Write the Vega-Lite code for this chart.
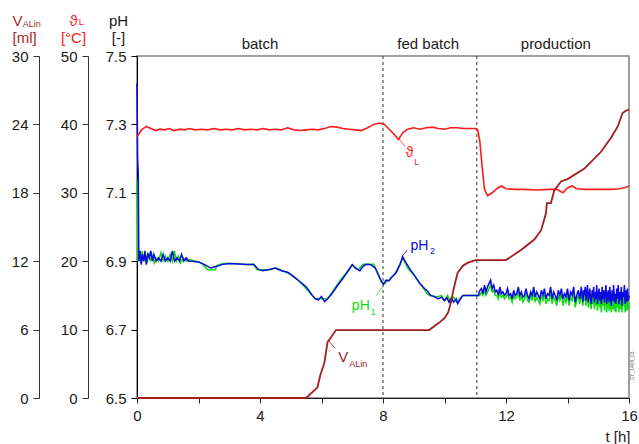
{
"$schema": "https://vega.github.io/schema/vega-lite/v6.json",
"width": 492, "height": 342,
"autosize": {"type": "none"},
"padding": {"left": 137, "top": 56, "right": 10, "bottom": 46},
"background": "white",
"config": {
  "font": "Liberation Sans",
  "view": {"stroke": "#808080", "strokeWidth": 1.5},
  "axis": {"grid": false, "labelFont": "Liberation Sans", "titleFont": "Liberation Sans", "labelFontSize": 15, "titleFontSize": 15, "titleFontWeight": "normal", "labelColor": "#1a1a1a", "titleColor": "#1a1a1a", "domainColor": "#222", "tickColor": "#222", "labelFlush": false, "labelOverlap": false, "labelPadding": 5, "domainWidth": 1, "tickWidth": 1},
  "text": {"font": "Liberation Sans"}
},
"datasets": {
  "ph2": [
{"t":0,"pH":7.42},{"t":0.02,"pH":7.2},{"t":0.04,"pH":7.16},{"t":0.06,"pH":6.9},{"t":0.1,"pH":6.93},{"t":0.14,"pH":6.89},{"t":0.18,"pH":6.92},{"t":0.22,"pH":6.9},{"t":0.26,"pH":6.93},{"t":0.3,"pH":6.89},{"t":0.35,"pH":6.92},{"t":0.4,"pH":6.91},{"t":0.45,"pH":6.93},{"t":0.5,"pH":6.9},{"t":0.55,"pH":6.92},{"t":0.62,"pH":6.9},{"t":0.7,"pH":6.91},{"t":0.78,"pH":6.9},{"t":0.85,"pH":6.92},{"t":0.92,"pH":6.9},{"t":1.0,"pH":6.91},{"t":1.08,"pH":6.9},{"t":1.15,"pH":6.93},{"t":1.22,"pH":6.9},{"t":1.3,"pH":6.91},{"t":1.38,"pH":6.9},{"t":1.45,"pH":6.92},{"t":1.52,"pH":6.9},{"t":1.6,"pH":6.91},{"t":1.68,"pH":6.9},{"t":1.8,"pH":6.9},{"t":2.0,"pH":6.898},{"t":2.2,"pH":6.89},{"t":2.4,"pH":6.88},{"t":2.6,"pH":6.885},{"t":2.75,"pH":6.89},{"t":3.0,"pH":6.893},{"t":3.3,"pH":6.892},{"t":3.6,"pH":6.89},{"t":3.8,"pH":6.89},{"t":3.95,"pH":6.876},{"t":4.1,"pH":6.872},{"t":4.3,"pH":6.876},{"t":4.5,"pH":6.88},{"t":4.7,"pH":6.872},{"t":4.9,"pH":6.868},{"t":5.1,"pH":6.855},{"t":5.3,"pH":6.84},{"t":5.5,"pH":6.825},{"t":5.7,"pH":6.8},{"t":5.8,"pH":6.79},{"t":5.9,"pH":6.787},{"t":6.0,"pH":6.797},{"t":6.1,"pH":6.782},{"t":6.2,"pH":6.79},{"t":6.35,"pH":6.806},{"t":6.5,"pH":6.826},{"t":6.7,"pH":6.85},{"t":6.85,"pH":6.87},{"t":7.0,"pH":6.89},{"t":7.1,"pH":6.88},{"t":7.25,"pH":6.872},{"t":7.35,"pH":6.885},{"t":7.45,"pH":6.891},{"t":7.6,"pH":6.89},{"t":7.75,"pH":6.88},{"t":7.85,"pH":6.86},{"t":7.95,"pH":6.84},{"t":8.02,"pH":6.832},{"t":8.1,"pH":6.845},{"t":8.2,"pH":6.843},{"t":8.3,"pH":6.855},{"t":8.42,"pH":6.865},{"t":8.55,"pH":6.89},{"t":8.64,"pH":6.913},{"t":8.75,"pH":6.895},{"t":8.9,"pH":6.874},{"t":9.05,"pH":6.855},{"t":9.2,"pH":6.835},{"t":9.35,"pH":6.82},{"t":9.45,"pH":6.812},{"t":9.55,"pH":6.8},{"t":9.7,"pH":6.795},{"t":9.8,"pH":6.79},{"t":9.9,"pH":6.795},{"t":10.0,"pH":6.785},{"t":10.08,"pH":6.793},{"t":10.15,"pH":6.78},{"t":10.22,"pH":6.792},{"t":10.3,"pH":6.78},{"t":10.38,"pH":6.79},{"t":10.43,"pH":6.776},{"t":10.52,"pH":6.79},{"t":10.6,"pH":6.8},{"t":10.7,"pH":6.8},{"t":10.9,"pH":6.8},{"t":11.05,"pH":6.8},
{"t":11.10,"pH":6.80},{"t":11.15,"pH":6.815},{"t":11.20,"pH":6.82},{"t":11.25,"pH":6.805},{"t":11.30,"pH":6.83},{"t":11.35,"pH":6.81},{"t":11.40,"pH":6.825},{"t":11.45,"pH":6.835},{"t":11.50,"pH":6.845},{"t":11.55,"pH":6.82},{"t":11.60,"pH":6.83},{"t":11.65,"pH":6.81},{"t":11.70,"pH":6.815},{"t":11.75,"pH":6.80},{"t":11.80,"pH":6.825},{"t":11.85,"pH":6.805},{"t":11.90,"pH":6.81},{"t":11.95,"pH":6.80},{"t":12.00,"pH":6.805},{"t":12.05,"pH":6.82},{"t":12.10,"pH":6.80},{"t":12.15,"pH":6.805},{"t":12.20,"pH":6.79},{"t":12.25,"pH":6.815},{"t":12.30,"pH":6.80},{"t":12.35,"pH":6.805},{"t":12.40,"pH":6.825},{"t":12.45,"pH":6.80},{"t":12.50,"pH":6.81},{"t":12.55,"pH":6.795},{"t":12.60,"pH":6.80},{"t":12.65,"pH":6.82},{"t":12.70,"pH":6.80},{"t":12.75,"pH":6.79},{"t":12.80,"pH":6.81},{"t":12.85,"pH":6.80},{"t":12.90,"pH":6.825},{"t":12.95,"pH":6.795},{"t":13.00,"pH":6.81},{"t":13.05,"pH":6.80},{"t":13.10,"pH":6.79},{"t":13.15,"pH":6.815},{"t":13.20,"pH":6.80},{"t":13.25,"pH":6.82},{"t":13.30,"pH":6.79},{"t":13.35,"pH":6.805},{"t":13.40,"pH":6.80},{"t":13.45,"pH":6.825},{"t":13.50,"pH":6.79},{"t":13.55,"pH":6.81},{"t":13.60,"pH":6.80},{"t":13.65,"pH":6.785},{"t":13.70,"pH":6.815},{"t":13.75,"pH":6.80},{"t":13.80,"pH":6.82},{"t":13.85,"pH":6.79},{"t":13.90,"pH":6.805},{"t":13.95,"pH":6.795},{"t":14.00,"pH":6.82},{"t":14.05,"pH":6.785},{"t":14.10,"pH":6.81},{"t":14.15,"pH":6.80},{"t":14.20,"pH":6.825},{"t":14.25,"pH":6.78},{"t":14.30,"pH":6.80},{"t":14.35,"pH":6.815},{"t":14.40,"pH":6.79},{"t":14.45,"pH":6.825},
{"t":14.500,"pH":6.78},{"t":14.525,"pH":6.815},{"t":14.550,"pH":6.80},{"t":14.575,"pH":6.825},{"t":14.600,"pH":6.785},{"t":14.625,"pH":6.81},{"t":14.650,"pH":6.83},{"t":14.675,"pH":6.78},{"t":14.700,"pH":6.80},{"t":14.725,"pH":6.82},{"t":14.750,"pH":6.79},{"t":14.775,"pH":6.775},{"t":14.800,"pH":6.815},{"t":14.825,"pH":6.795},{"t":14.850,"pH":6.825},{"t":14.875,"pH":6.78},{"t":14.900,"pH":6.81},{"t":14.925,"pH":6.79},{"t":14.950,"pH":6.83},{"t":14.975,"pH":6.775},{"t":15.000,"pH":6.80},{"t":15.025,"pH":6.82},{"t":15.050,"pH":6.785},{"t":15.075,"pH":6.81},{"t":15.100,"pH":6.775},{"t":15.125,"pH":6.825},{"t":15.150,"pH":6.79},{"t":15.175,"pH":6.815},{"t":15.200,"pH":6.78},{"t":15.225,"pH":6.805},{"t":15.250,"pH":6.83},{"t":15.275,"pH":6.775},{"t":15.300,"pH":6.80},{"t":15.325,"pH":6.815},{"t":15.350,"pH":6.78},{"t":15.375,"pH":6.825},{"t":15.400,"pH":6.795},{"t":15.425,"pH":6.77},{"t":15.450,"pH":6.815},{"t":15.475,"pH":6.785},{"t":15.500,"pH":6.83},{"t":15.525,"pH":6.78},{"t":15.550,"pH":6.805},{"t":15.575,"pH":6.775},{"t":15.600,"pH":6.82},{"t":15.625,"pH":6.79},{"t":15.650,"pH":6.83},{"t":15.675,"pH":6.775},{"t":15.700,"pH":6.81},{"t":15.725,"pH":6.785},{"t":15.750,"pH":6.825},{"t":15.775,"pH":6.77},{"t":15.800,"pH":6.81},{"t":15.825,"pH":6.795},{"t":15.850,"pH":6.83},{"t":15.875,"pH":6.775},{"t":15.900,"pH":6.815},{"t":15.925,"pH":6.78},{"t":15.950,"pH":6.82},{"t":15.975,"pH":6.785},{"t":16.000,"pH":6.80}
  ],
  "ph1": [
{"t":0,"pH":7.14},{"t":0.03,"pH":6.9},{"t":0.08,"pH":6.92},{"t":0.12,"pH":6.895},{"t":0.17,"pH":6.93},{"t":0.22,"pH":6.9},{"t":0.28,"pH":6.92},{"t":0.33,"pH":6.895},{"t":0.38,"pH":6.925},{"t":0.44,"pH":6.9},{"t":0.5,"pH":6.92},{"t":0.56,"pH":6.895},{"t":0.62,"pH":6.91},{"t":0.7,"pH":6.9},{"t":0.78,"pH":6.925},{"t":0.85,"pH":6.9},{"t":0.92,"pH":6.915},{"t":1.0,"pH":6.9},{"t":1.08,"pH":6.92},{"t":1.15,"pH":6.9},{"t":1.22,"pH":6.93},{"t":1.28,"pH":6.9},{"t":1.35,"pH":6.915},{"t":1.42,"pH":6.895},{"t":1.5,"pH":6.91},{"t":1.6,"pH":6.9},{"t":1.7,"pH":6.905},{"t":1.9,"pH":6.9},{"t":2.1,"pH":6.895},{"t":2.3,"pH":6.875},{"t":2.55,"pH":6.875},{"t":2.6,"pH":6.888},{"t":2.8,"pH":6.893},{"t":3.2,"pH":6.893},{"t":3.5,"pH":6.89},{"t":3.8,"pH":6.891},{"t":3.9,"pH":6.875},{"t":4.3,"pH":6.875},{"t":4.5,"pH":6.88},{"t":4.8,"pH":6.87},{"t":5.0,"pH":6.86},{"t":5.3,"pH":6.84},{"t":5.5,"pH":6.82},{"t":5.7,"pH":6.8},{"t":5.8,"pH":6.79},{"t":6.2,"pH":6.79},{"t":6.35,"pH":6.81},{"t":6.5,"pH":6.83},{"t":6.7,"pH":6.855},{"t":6.9,"pH":6.875},{"t":7.0,"pH":6.89},{"t":7.2,"pH":6.875},{"t":7.35,"pH":6.891},{"t":7.7,"pH":6.891},{"t":7.8,"pH":6.87},{"t":7.95,"pH":6.84},{"t":8.05,"pH":6.835},{"t":8.2,"pH":6.845},{"t":8.4,"pH":6.865},{"t":8.55,"pH":6.89},{"t":8.64,"pH":6.91},{"t":8.8,"pH":6.88},{"t":9.0,"pH":6.86},{"t":9.2,"pH":6.835},{"t":9.4,"pH":6.81},{"t":9.5,"pH":6.8},{"t":9.6,"pH":6.8},{"t":9.75,"pH":6.795},{"t":9.9,"pH":6.8},{"t":10.0,"pH":6.785},{"t":10.1,"pH":6.8},{"t":10.2,"pH":6.78},{"t":10.3,"pH":6.795},{"t":10.4,"pH":6.78},{"t":10.5,"pH":6.79},{"t":10.6,"pH":6.8},{"t":11.05,"pH":6.8},
{"t":11.10,"pH":6.80},{"t":11.15,"pH":6.80},{"t":11.20,"pH":6.81},{"t":11.25,"pH":6.80},{"t":11.30,"pH":6.815},{"t":11.35,"pH":6.80},{"t":11.40,"pH":6.81},{"t":11.45,"pH":6.82},{"t":11.50,"pH":6.83},{"t":11.55,"pH":6.81},{"t":11.60,"pH":6.815},{"t":11.65,"pH":6.80},{"t":11.70,"pH":6.80},{"t":11.75,"pH":6.79},{"t":11.80,"pH":6.81},{"t":11.85,"pH":6.795},{"t":11.90,"pH":6.80},{"t":11.95,"pH":6.79},{"t":12.00,"pH":6.795},{"t":12.05,"pH":6.805},{"t":12.10,"pH":6.79},{"t":12.15,"pH":6.795},{"t":12.20,"pH":6.78},{"t":12.25,"pH":6.80},{"t":12.30,"pH":6.79},{"t":12.35,"pH":6.795},{"t":12.40,"pH":6.81},{"t":12.45,"pH":6.785},{"t":12.50,"pH":6.80},{"t":12.55,"pH":6.78},{"t":12.60,"pH":6.79},{"t":12.65,"pH":6.805},{"t":12.70,"pH":6.785},{"t":12.75,"pH":6.78},{"t":12.80,"pH":6.80},{"t":12.85,"pH":6.785},{"t":12.90,"pH":6.81},{"t":12.95,"pH":6.78},{"t":13.00,"pH":6.795},{"t":13.05,"pH":6.785},{"t":13.10,"pH":6.775},{"t":13.15,"pH":6.80},{"t":13.20,"pH":6.785},{"t":13.25,"pH":6.805},{"t":13.30,"pH":6.775},{"t":13.35,"pH":6.79},{"t":13.40,"pH":6.785},{"t":13.45,"pH":6.81},{"t":13.50,"pH":6.775},{"t":13.55,"pH":6.795},{"t":13.60,"pH":6.785},{"t":13.65,"pH":6.77},{"t":13.70,"pH":6.80},{"t":13.75,"pH":6.785},{"t":13.80,"pH":6.805},{"t":13.85,"pH":6.77},{"t":13.90,"pH":6.79},{"t":13.95,"pH":6.78},{"t":14.00,"pH":6.805},{"t":14.05,"pH":6.77},{"t":14.10,"pH":6.795},{"t":14.15,"pH":6.785},{"t":14.20,"pH":6.81},{"t":14.25,"pH":6.765},{"t":14.30,"pH":6.785},{"t":14.35,"pH":6.80},{"t":14.40,"pH":6.775},{"t":14.45,"pH":6.81},
{"t":14.500,"pH":6.77},{"t":14.525,"pH":6.80},{"t":14.550,"pH":6.785},{"t":14.575,"pH":6.81},{"t":14.600,"pH":6.77},{"t":14.625,"pH":6.795},{"t":14.650,"pH":6.81},{"t":14.675,"pH":6.765},{"t":14.700,"pH":6.785},{"t":14.725,"pH":6.80},{"t":14.750,"pH":6.77},{"t":14.775,"pH":6.76},{"t":14.800,"pH":6.80},{"t":14.825,"pH":6.775},{"t":14.850,"pH":6.805},{"t":14.875,"pH":6.76},{"t":14.900,"pH":6.79},{"t":14.925,"pH":6.77},{"t":14.950,"pH":6.81},{"t":14.975,"pH":6.755},{"t":15.000,"pH":6.785},{"t":15.025,"pH":6.80},{"t":15.050,"pH":6.765},{"t":15.075,"pH":6.79},{"t":15.100,"pH":6.75},{"t":15.125,"pH":6.80},{"t":15.150,"pH":6.77},{"t":15.175,"pH":6.795},{"t":15.200,"pH":6.755},{"t":15.225,"pH":6.785},{"t":15.250,"pH":6.81},{"t":15.275,"pH":6.75},{"t":15.300,"pH":6.78},{"t":15.325,"pH":6.795},{"t":15.350,"pH":6.755},{"t":15.375,"pH":6.80},{"t":15.400,"pH":6.77},{"t":15.425,"pH":6.75},{"t":15.450,"pH":6.795},{"t":15.475,"pH":6.76},{"t":15.500,"pH":6.81},{"t":15.525,"pH":6.755},{"t":15.550,"pH":6.785},{"t":15.575,"pH":6.75},{"t":15.600,"pH":6.80},{"t":15.625,"pH":6.765},{"t":15.650,"pH":6.81},{"t":15.675,"pH":6.75},{"t":15.700,"pH":6.79},{"t":15.725,"pH":6.76},{"t":15.750,"pH":6.805},{"t":15.775,"pH":6.75},{"t":15.800,"pH":6.79},{"t":15.825,"pH":6.77},{"t":15.850,"pH":6.81},{"t":15.875,"pH":6.75},{"t":15.900,"pH":6.795},{"t":15.925,"pH":6.755},{"t":15.950,"pH":6.80},{"t":15.975,"pH":6.76},{"t":16.000,"pH":6.78}
  ],
  "temp": [
{"t":0,"T":38.2},{"t":0.15,"T":39.2},{"t":0.3,"T":39.7},{"t":0.45,"T":39.4},{"t":0.6,"T":39.1},{"t":0.75,"T":39.3},{"t":0.9,"T":39.2},{"t":1.05,"T":39.4},{"t":1.2,"T":39.1},{"t":1.4,"T":39.3},{"t":1.55,"T":39.2},{"t":1.7,"T":39.4},{"t":1.9,"T":39.2},{"t":2.1,"T":39.3},{"t":2.3,"T":39.2},{"t":2.5,"T":39.4},{"t":2.7,"T":39.2},{"t":2.9,"T":39.3},{"t":3.1,"T":39.2},{"t":3.3,"T":39.4},{"t":3.5,"T":39.2},{"t":3.7,"T":39.3},{"t":3.9,"T":39.2},{"t":4.1,"T":39.4},{"t":4.3,"T":39.2},{"t":4.5,"T":39.3},{"t":4.7,"T":39.2},{"t":4.9,"T":39.5},{"t":5.1,"T":39.2},{"t":5.3,"T":39.1},{"t":5.5,"T":39.2},{"t":5.7,"T":39.3},{"t":5.9,"T":39.2},{"t":6.1,"T":39.4},{"t":6.3,"T":39.7},{"t":6.5,"T":39.6},{"t":6.7,"T":39.4},{"t":6.9,"T":39.3},{"t":7.1,"T":39.2},{"t":7.3,"T":39.1},{"t":7.5,"T":39.5},{"t":7.7,"T":40.0},{"t":7.9,"T":40.2},{"t":8.05,"T":40.0},{"t":8.2,"T":39.3},{"t":8.35,"T":38.6},{"t":8.5,"T":37.8},{"t":8.65,"T":38.8},{"t":8.8,"T":39.3},{"t":9.0,"T":39.5},{"t":9.2,"T":39.3},{"t":9.4,"T":39.5},{"t":9.6,"T":39.6},{"t":9.8,"T":39.4},{"t":10.0,"T":39.3},{"t":10.2,"T":39.5},{"t":10.4,"T":39.5},{"t":10.6,"T":39.4},{"t":10.8,"T":39.4},{"t":11.0,"T":39.4},{"t":11.08,"T":39.2},{"t":11.15,"T":37.5},{"t":11.22,"T":34.0},{"t":11.3,"T":30.5},{"t":11.4,"T":29.6},{"t":11.55,"T":30.0},{"t":11.7,"T":30.6},{"t":11.85,"T":31.0},{"t":12.0,"T":30.6},{"t":12.3,"T":30.5},{"t":12.6,"T":30.5},{"t":13.0,"T":30.4},{"t":13.4,"T":30.5},{"t":13.65,"T":30.5},{"t":13.85,"T":30.0},{"t":14.0,"T":30.7},{"t":14.15,"T":31.0},{"t":14.3,"T":30.6},{"t":14.6,"T":30.5},{"t":15.0,"T":30.5},{"t":15.4,"T":30.5},{"t":15.7,"T":30.6},{"t":15.9,"T":30.8},{"t":16.0,"T":31.0}
  ],
  "vol": [
{"t":0,"V":0},{"t":5.5,"V":0},{"t":5.87,"V":0.94},{"t":5.96,"V":2.0},{"t":6.09,"V":3.04},{"t":6.2,"V":4.94},{"t":6.25,"V":5.09},{"t":6.47,"V":5.96},{"t":9.5,"V":5.96},{"t":9.8,"V":6.55},{"t":10.0,"V":7.0},{"t":10.12,"V":7.5},{"t":10.2,"V":8.3},{"t":10.3,"V":9.6},{"t":10.43,"V":11.0},{"t":10.6,"V":11.6},{"t":10.75,"V":11.85},{"t":11.0,"V":12.1},{"t":12.0,"V":12.1},{"t":12.5,"V":13.0},{"t":12.92,"V":13.9},{"t":13.14,"V":14.7},{"t":13.3,"V":16.2},{"t":13.33,"V":17.1},{"t":13.46,"V":17.1},{"t":13.57,"V":18.2},{"t":13.79,"V":19.0},{"t":14.0,"V":19.2},{"t":14.54,"V":20.1},{"t":15.09,"V":21.6},{"t":15.41,"V":22.8},{"t":15.63,"V":23.8},{"t":15.79,"V":25.0},{"t":15.9,"V":25.2},{"t":16.0,"V":25.3}
  ]
},
"resolve": {"scale": {"y": "independent"}},
"layer": [
 {
  "layer": [
   {
    "data": {"values": [{"t": 8.0}, {"t": 11.05}]},
    "mark": {"type": "rule", "color": "#333", "strokeDash": [3, 3], "strokeWidth": 1},
    "encoding": {
      "x": {"field": "t", "type": "quantitative", "scale": {"domain": [0, 16], "nice": false, "zero": false},
        "axis": {"values": [0, 2, 4, 6, 8, 10, 12, 14, 16], "labelExpr": "datum.value % 4 == 0 ? datum.label : ''", "title": "t [h]", "titleAlign": "right", "titleX": 493, "titleY": 43, "titleBaseline": "alphabetic", "tickSize": 5, "labelPadding": 5}}
    }
   },
   {
    "data": {"name": "ph1"},
    "mark": {"type": "line", "color": "#11dd11", "strokeWidth": 1.5},
    "encoding": {
      "x": {"field": "t", "type": "quantitative", "scale": {"domain": [0, 16], "nice": false, "zero": false}},
      "y": {"field": "pH", "type": "quantitative", "scale": {"domain": [6.5, 7.5], "nice": false, "zero": false},
        "axis": {"orient": "left", "values": [6.5, 6.6, 6.7, 6.8, 6.9, 7.0, 7.1, 7.2, 7.3, 7.4, 7.5], "labelExpr": "round(datum.value*10) % 2 == 1 ? format(datum.value, '.1f') : ''", "tickSize": {"condition": {"test": "round(datum.value*10) % 2 == 1", "value": 6}, "value": 3.5}, "domainColor": "#000", "tickColor": "#000", "title": ["pH", "[-]"], "titleAngle": 0, "titleAlign": "center", "titleBaseline": "alphabetic", "titleX": -19, "titleY": -31, "titleLineHeight": 17.5}}
    }
   },
   {
    "data": {"name": "ph2"},
    "mark": {"type": "line", "color": "#0a0ae0", "strokeWidth": 1.5},
    "encoding": {
      "x": {"field": "t", "type": "quantitative", "scale": {"domain": [0, 16], "nice": false, "zero": false}},
      "y": {"field": "pH", "type": "quantitative", "scale": {"domain": [6.5, 7.5], "nice": false, "zero": false}}
    }
   },
   {
    "data": {"values": [{"t": 4.0, "pH": 7.5196, "label": "batch"}, {"t": 9.47, "pH": 7.5196, "label": "fed batch"}, {"t": 13.62, "pH": 7.5196, "label": "production"}]},
    "mark": {"type": "text", "fontSize": 15, "color": "#1a1a1a", "align": "center", "baseline": "alphabetic"},
    "encoding": {
      "x": {"field": "t", "type": "quantitative", "scale": {"domain": [0, 16], "nice": false, "zero": false}},
      "y": {"field": "pH", "type": "quantitative", "scale": {"domain": [6.5, 7.5], "nice": false, "zero": false}},
      "text": {"field": "label"}
    }
   },
   {
    "data": {"values": [{"t": 8.608, "pH": 6.9132, "t2": 8.79, "y2v": 6.9327}]},
    "mark": {"type": "rule", "color": "#0a0ae0", "strokeWidth": 0.8},
    "encoding": {
      "x": {"field": "t", "type": "quantitative", "scale": {"domain": [0, 16], "nice": false, "zero": false}},
      "y": {"field": "pH", "type": "quantitative", "scale": {"domain": [6.5, 7.5], "nice": false, "zero": false}},
      "x2": {"field": "t2"}, "y2": {"field": "y2v"}
    }
   },
   {
    "data": {"values": [{"t": 7.772, "pH": 6.799, "t2": 7.99, "y2v": 6.8254}]},
    "mark": {"type": "rule", "color": "#11dd11", "strokeWidth": 0.8},
    "encoding": {
      "x": {"field": "t", "type": "quantitative", "scale": {"domain": [0, 16], "nice": false, "zero": false}},
      "y": {"field": "pH", "type": "quantitative", "scale": {"domain": [6.5, 7.5], "nice": false, "zero": false}},
      "x2": {"field": "t2"}, "y2": {"field": "y2v"}
    }
   },
   {
    "data": {"values": [{"t": 9.187, "pH": 6.9327, "label": "pH", "size": "big"}, {"t": 9.61, "pH": 6.9202, "label": "2", "size": "small"}]},
    "mark": {"type": "text", "color": "#0a0ae0", "align": "center", "baseline": "alphabetic"},
    "encoding": {
      "x": {"field": "t", "type": "quantitative", "scale": {"domain": [0, 16], "nice": false, "zero": false}},
      "y": {"field": "pH", "type": "quantitative", "scale": {"domain": [6.5, 7.5], "nice": false, "zero": false}},
      "text": {"field": "label"},
      "size": {"field": "size", "type": "nominal", "scale": {"domain": ["big", "small"], "range": [14, 9]}, "legend": null}
    }
   },
   {
    "data": {"values": [{"t": 7.278, "pH": 6.7573, "label": "pH", "size": "big"}, {"t": 7.685, "pH": 6.7427, "label": "1", "size": "small"}]},
    "mark": {"type": "text", "color": "#11dd11", "align": "center", "baseline": "alphabetic"},
    "encoding": {
      "x": {"field": "t", "type": "quantitative", "scale": {"domain": [0, 16], "nice": false, "zero": false}},
      "y": {"field": "pH", "type": "quantitative", "scale": {"domain": [6.5, 7.5], "nice": false, "zero": false}},
      "text": {"field": "label"},
      "size": {"field": "size", "type": "nominal", "scale": {"domain": ["big", "small"], "range": [14, 9]}, "legend": null}
    }
   },
   {
    "data": {"values": [{"t": -1.896, "pH": 7.5906, "label": "L"}]},
    "mark": {"type": "text", "color": "#ff2020", "align": "left", "baseline": "alphabetic", "fontSize": 9},
    "encoding": {
      "x": {"field": "t", "type": "quantitative", "scale": {"domain": [0, 16], "nice": false, "zero": false}},
      "y": {"field": "pH", "type": "quantitative", "scale": {"domain": [6.5, 7.5], "nice": false, "zero": false}},
      "text": {"field": "label"}
    }
   },
   {
    "data": {"values": [{"t": -3.717, "pH": 7.5857, "label": "ALin"}]},
    "mark": {"type": "text", "color": "#a52a2a", "align": "left", "baseline": "alphabetic", "fontSize": 9},
    "encoding": {
      "x": {"field": "t", "type": "quantitative", "scale": {"domain": [0, 16], "nice": false, "zero": false}},
      "y": {"field": "pH", "type": "quantitative", "scale": {"domain": [6.5, 7.5], "nice": false, "zero": false}},
      "text": {"field": "label"}
    }
   },
   {
    "data": {"values": [{"t": 16.1, "pH": 6.594, "label": "DT_1409_03"}]},
    "mark": {"type": "text", "color": "#666", "align": "center", "baseline": "middle", "fontSize": 5, "angle": 270},
    "encoding": {
      "x": {"field": "t", "type": "quantitative", "scale": {"domain": [0, 16], "nice": false, "zero": false}},
      "y": {"field": "pH", "type": "quantitative", "scale": {"domain": [6.5, 7.5], "nice": false, "zero": false}},
      "text": {"field": "label"}
    }
   }
  ]
 },
 {
  "layer": [
   {
    "data": {"name": "temp"},
    "mark": {"type": "line", "color": "#ff1a1a", "strokeWidth": 1.6},
    "encoding": {
      "x": {"field": "t", "type": "quantitative", "scale": {"domain": [0, 16], "nice": false, "zero": false}},
      "y": {"field": "T", "type": "quantitative", "scale": {"domain": [0, 50], "nice": false, "zero": false},
        "axis": {"orient": "left", "offset": 49, "values": [0, 5, 10, 15, 20, 25, 30, 35, 40, 45, 50], "labelExpr": "datum.value % 10 == 0 ? datum.label : ''", "tickSize": {"condition": {"test": "datum.value % 10 == 0", "value": 6}, "value": 3.5}, "domainColor": "#333", "tickColor": "#333", "title": ["ϑ", "[°C]"], "titleColor": "#ff2020", "titleAngle": 0, "titleAlign": "center", "titleBaseline": "alphabetic", "titleX": -15, "titleY": -31, "titleLineHeight": 17.5}}
    }
   },
   {
    "data": {"values": [{"t": 8.498, "T": 37.97, "t2": 8.715, "y2v": 36.84}]},
    "mark": {"type": "rule", "color": "#ff1a1a", "strokeWidth": 0.8},
    "encoding": {
      "x": {"field": "t", "type": "quantitative", "scale": {"domain": [0, 16], "nice": false, "zero": false}},
      "y": {"field": "T", "type": "quantitative", "scale": {"domain": [0, 50], "nice": false, "zero": false}},
      "x2": {"field": "t2"}, "y2": {"field": "y2v"}
    }
   },
   {
    "data": {"values": [{"t": 8.868, "T": 35.28, "label": "ϑ", "size": "big"}, {"t": 9.096, "T": 34.06, "label": "L", "size": "small"}]},
    "mark": {"type": "text", "color": "#ff1a1a", "align": "center", "baseline": "alphabetic"},
    "encoding": {
      "x": {"field": "t", "type": "quantitative", "scale": {"domain": [0, 16], "nice": false, "zero": false}},
      "y": {"field": "T", "type": "quantitative", "scale": {"domain": [0, 50], "nice": false, "zero": false}},
      "text": {"field": "label"},
      "size": {"field": "size", "type": "nominal", "scale": {"domain": ["big", "small"], "range": [14, 9]}, "legend": null}
    }
   }
  ]
 },
 {
  "layer": [
   {
    "data": {"name": "vol"},
    "mark": {"type": "line", "color": "#a01e1e", "strokeWidth": 1.8},
    "encoding": {
      "x": {"field": "t", "type": "quantitative", "scale": {"domain": [0, 16], "nice": false, "zero": false}},
      "y": {"field": "V", "type": "quantitative", "scale": {"domain": [0, 30], "nice": false, "zero": false},
        "axis": {"orient": "left", "offset": 98, "values": [0, 3, 6, 9, 12, 15, 18, 21, 24, 27, 30], "labelExpr": "datum.value % 6 == 0 ? datum.label : ''", "tickSize": {"condition": {"test": "datum.value % 6 == 0", "value": 6}, "value": 3.5}, "domainColor": "#333", "tickColor": "#333", "title": ["V", "[ml]"], "titleColor": "#a52a2a", "titleAngle": 0, "titleAlign": "left", "titleBaseline": "alphabetic", "titleX": -27, "titleY": -31, "titleLineHeight": 17.5}}
    }
   },
   {
    "data": {"values": [{"t": 6.221, "V": 5.09, "t2": 6.439, "y2v": 4.36}]},
    "mark": {"type": "rule", "color": "#a01e1e", "strokeWidth": 0.8},
    "encoding": {
      "x": {"field": "t", "type": "quantitative", "scale": {"domain": [0, 16], "nice": false, "zero": false}},
      "y": {"field": "V", "type": "quantitative", "scale": {"domain": [0, 30], "nice": false, "zero": false}},
      "x2": {"field": "t2"}, "y2": {"field": "y2v"}
    }
   },
   {
    "data": {"values": [{"t": 6.709, "V": 3.19, "label": "V"}]},
    "mark": {"type": "text", "color": "#a01e1e", "align": "center", "baseline": "alphabetic", "fontSize": 15},
    "encoding": {
      "x": {"field": "t", "type": "quantitative", "scale": {"domain": [0, 16], "nice": false, "zero": false}},
      "y": {"field": "V", "type": "quantitative", "scale": {"domain": [0, 30], "nice": false, "zero": false}},
      "text": {"field": "label"}
    }
   },
   {
    "data": {"values": [{"t": 6.904, "V": 2.74, "label": "ALin"}]},
    "mark": {"type": "text", "color": "#a01e1e", "align": "left", "baseline": "alphabetic", "fontSize": 9},
    "encoding": {
      "x": {"field": "t", "type": "quantitative", "scale": {"domain": [0, 16], "nice": false, "zero": false}},
      "y": {"field": "V", "type": "quantitative", "scale": {"domain": [0, 30], "nice": false, "zero": false}},
      "text": {"field": "label"}
    }
   }
  ]
 }
]
}
